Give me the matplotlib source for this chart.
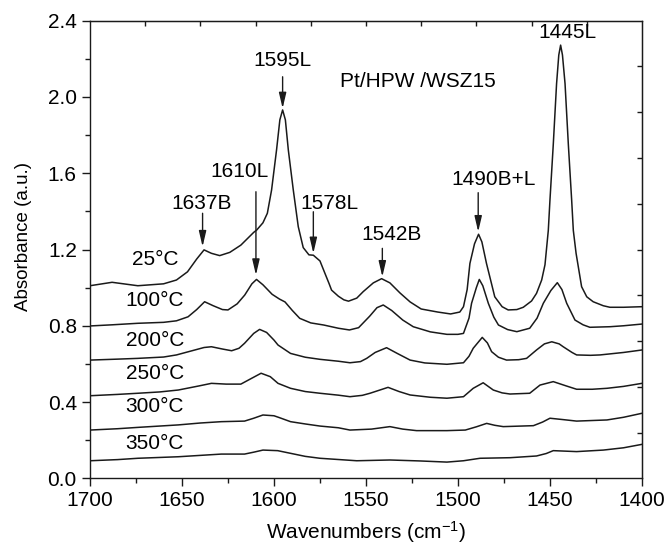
import matplotlib
matplotlib.use('Agg')
import matplotlib.pyplot as plt
from matplotlib.ticker import MultipleLocator, FormatStrFormatter

plt.rcParams['font.family'] = ['Liberation Sans', 'DejaVu Sans']
plt.rcParams['mathtext.default'] = 'regular'

# spectra (wavenumber, absorbance)
wn_25 = [1700, 1688, 1674, 1660, 1653, 1647, 1642, 1638, 1634, 1629.5, 1624, 1618, 1611, 1609.4,
         1606, 1603.6, 1601.3, 1598.6, 1596.8, 1595.3, 1593.8, 1592.2, 1589.5, 1586.8, 1584.1,
         1581, 1578.6, 1575, 1572.3, 1570, 1568.7, 1565, 1562, 1559.5, 1555, 1551.5, 1546, 1541.5,
         1537, 1531.5, 1526, 1520, 1511, 1504, 1499, 1497, 1495, 1493.5, 1491, 1488.8, 1487,
         1484.5, 1482, 1480, 1476, 1472.7, 1468, 1464.5, 1460, 1457.3, 1454.5, 1452.7, 1450.9,
         1450, 1448.2, 1446.4, 1445.2, 1444.2, 1443.2, 1441.8, 1440, 1438.2, 1437.3, 1435.8,
         1434.6, 1432.8, 1430, 1426.5, 1421, 1417.4, 1410, 1400]
abs_25 = [1.010, 1.028, 1.010, 1.020, 1.040, 1.083, 1.150, 1.198, 1.180, 1.168, 1.185, 1.223, 1.290, 1.302,
          1.340, 1.390, 1.512, 1.722, 1.880, 1.932, 1.880, 1.722, 1.512, 1.320, 1.210,
          1.172, 1.170, 1.140, 1.075, 1.020, 0.987, 0.955, 0.936, 0.929, 0.945, 0.979, 1.025, 1.047,
          1.025, 0.972, 0.925, 0.888, 0.872, 0.862, 0.872, 0.900, 0.990, 1.127, 1.230, 1.280, 1.240,
          1.127, 1.030, 0.952, 0.900, 0.883, 0.885, 0.897, 0.930, 0.970, 1.040, 1.120, 1.300,
          1.459, 1.750, 2.070, 2.220, 2.272, 2.220, 2.070, 1.750, 1.459, 1.300, 1.180,
          1.110, 1.005, 0.952, 0.926, 0.905, 0.897, 0.897, 0.900]

wn_100 = [1700, 1688, 1674, 1660, 1653, 1646.7, 1642, 1637.7, 1633, 1628, 1625, 1620, 1615.9, 1612,
          1609.5, 1606, 1601, 1597, 1594, 1590, 1586, 1580, 1573, 1565, 1559, 1554, 1548, 1544,
          1540.6, 1536, 1530, 1524.3, 1515, 1506, 1500, 1497, 1494, 1492.6, 1490, 1488.4, 1486.5,
          1483.5, 1480.5, 1478, 1473, 1468, 1461, 1457, 1453.6, 1449.5, 1446, 1443.5, 1440.9,
          1436.4, 1432, 1428.3, 1417.4, 1410, 1400]
abs_100 = [0.799, 0.805, 0.813, 0.818, 0.826, 0.847, 0.885, 0.926, 0.905, 0.885, 0.883, 0.915, 0.961, 1.020,
           1.043, 1.015, 0.965, 0.940, 0.925, 0.880, 0.839, 0.815, 0.804, 0.787, 0.778, 0.790, 0.850, 0.895,
           0.909, 0.880, 0.830, 0.795, 0.768, 0.755, 0.755, 0.760, 0.840, 0.918, 1.000, 1.043, 1.010,
           0.918, 0.845, 0.804, 0.780, 0.769, 0.787, 0.840, 0.918, 0.985, 1.026, 0.990, 0.918,
           0.830, 0.805, 0.792, 0.795, 0.800, 0.809]

wn_200 = [1700, 1685, 1674, 1660, 1653, 1643, 1638, 1634, 1628, 1623, 1619, 1616, 1611, 1607.8, 1604,
          1600, 1597.8, 1591, 1583, 1575, 1565, 1558.7, 1553, 1549.6, 1545, 1538.8, 1533, 1526, 1518,
          1506, 1497, 1494, 1491.7, 1486.8, 1484, 1481.7, 1478, 1473.6, 1467, 1462.7, 1457.3, 1453,
          1449, 1445, 1442.8, 1438, 1435.5, 1428, 1422.8, 1410, 1400]
abs_200 = [0.620, 0.625, 0.629, 0.636, 0.647, 0.673, 0.686, 0.690, 0.678, 0.669, 0.682, 0.708, 0.760, 0.781, 0.765,
           0.725, 0.699, 0.655, 0.635, 0.624, 0.614, 0.606, 0.612, 0.629, 0.660, 0.685, 0.655, 0.620, 0.605,
           0.598, 0.606, 0.640, 0.682, 0.739, 0.710, 0.664, 0.635, 0.620, 0.622, 0.629, 0.673, 0.705,
           0.716, 0.705, 0.690, 0.660, 0.647, 0.645, 0.647, 0.660, 0.673]

wn_250 = [1700, 1685, 1674, 1662, 1652, 1641, 1634, 1626, 1618, 1613, 1607, 1602, 1597.8, 1591, 1583,
          1575, 1565, 1558.7, 1552, 1547.8, 1538, 1532, 1526, 1515, 1506, 1497, 1491.7, 1486.3,
          1480.8, 1476, 1471.7, 1461, 1455.4, 1448.2, 1441, 1435.5, 1427, 1419, 1410, 1400]
abs_250 = [0.433, 0.440, 0.446, 0.453, 0.463, 0.484, 0.498, 0.494, 0.494, 0.520, 0.551, 0.533, 0.498, 0.472, 0.455,
           0.446, 0.436, 0.428, 0.435, 0.446, 0.477, 0.455, 0.437, 0.425, 0.420, 0.428, 0.472, 0.501,
           0.463, 0.448, 0.442, 0.446, 0.489, 0.507, 0.484, 0.467, 0.467, 0.472, 0.482, 0.498]

wn_300 = [1700, 1685, 1674, 1652, 1640, 1628.6, 1616, 1611, 1606, 1600, 1597, 1591, 1583, 1575, 1565,
          1558.7, 1547, 1537, 1530, 1522.5, 1506, 1496, 1490, 1484.4, 1480, 1475.4, 1459, 1454,
          1450, 1443, 1435.5, 1419, 1410, 1400]
abs_300 = [0.253, 0.260, 0.267, 0.280, 0.290, 0.297, 0.300, 0.315, 0.332, 0.328, 0.318, 0.297, 0.285, 0.274, 0.265,
           0.253, 0.258, 0.271, 0.258, 0.250, 0.250, 0.253, 0.270, 0.288, 0.278, 0.271, 0.276, 0.295,
           0.315, 0.308, 0.300, 0.306, 0.320, 0.341]

wn_350 = [1700, 1685, 1674, 1652, 1628.6, 1616, 1611, 1606, 1598, 1591, 1583, 1575, 1555, 1537,
          1520.7, 1506, 1497, 1488, 1471.7, 1457.3, 1452, 1448.2, 1435.5, 1421, 1410, 1400]
abs_350 = [0.092, 0.098, 0.105, 0.113, 0.127, 0.127, 0.137, 0.148, 0.145, 0.131, 0.115, 0.105, 0.092, 0.096,
           0.091, 0.085, 0.092, 0.105, 0.108, 0.117, 0.130, 0.145, 0.140, 0.148, 0.160, 0.178]

temps = ['25°C', '100°C', '200°C', '250°C', '300°C', '350°C']
temp_label_y = [1.148, 0.935, 0.725, 0.551, 0.375, 0.184]

series_wn = [wn_25, wn_100, wn_200, wn_250, wn_300, wn_350]
series_abs = [abs_25, abs_100, abs_200, abs_250, abs_300, abs_350]

fs = 15
fig = plt.figure(figsize=(6.68, 5.48), dpi=100)
ax = fig.add_axes([0.1347, 0.1272, 0.8263, 0.835])

for w, a in zip(series_wn, series_abs):
    ax.plot(w, a, color='#1a1a1a', lw=1.1, solid_joinstyle='round')

for t, y in zip(temps, temp_label_y):
    ax.text(1664.7, y, t, ha='center', va='center', fontsize=fs)

# peak labels + arrows
arrow = dict(arrowstyle='-|>,head_length=0.94,head_width=0.22', color='#1a1a1a',
             lw=1.0, shrinkA=0, shrinkB=0, mutation_scale=10)
ax.text(1639.3, 1.442, '1637B', ha='center', va='center', fontsize=fs)
ax.annotate('', xy=(1638.8, 1.215), xytext=(1638.8, 1.39), arrowprops=arrow)
ax.text(1618.5, 1.608, '1610L', ha='center', va='center', fontsize=fs)
ax.annotate('', xy=(1609.8, 1.066), xytext=(1609.8, 1.503), arrowprops=arrow)
ax.text(1595.3, 2.193, '1595L', ha='center', va='center', fontsize=fs)
ax.annotate('', xy=(1595.3, 1.94), xytext=(1595.3, 2.106), arrowprops=arrow)
ax.text(1570, 1.442, '1578L', ha='center', va='center', fontsize=fs)
ax.annotate('', xy=(1578.6, 1.18), xytext=(1578.6, 1.398), arrowprops=arrow)
ax.text(1536, 1.281, '1542B', ha='center', va='center', fontsize=fs)
ax.annotate('', xy=(1541.1, 1.057), xytext=(1541.1, 1.206), arrowprops=arrow)
ax.text(1480.8, 1.569, '1490B+L', ha='center', va='center', fontsize=fs)
ax.annotate('', xy=(1489, 1.293), xytext=(1489, 1.498), arrowprops=arrow)
ax.text(1440.4, 2.339, '1445L', ha='center', va='center', fontsize=fs)
ax.text(1521.6, 2.08, 'Pt/HPW /WSZ15', ha='center', va='center', fontsize=fs)

ax.set_xlim(1700, 1400)
ax.set_ylim(0, 2.4)
ax.xaxis.set_major_locator(MultipleLocator(50))
ax.xaxis.set_minor_locator(MultipleLocator(25))
ax.yaxis.set_major_locator(MultipleLocator(0.4))
ax.yaxis.set_minor_locator(MultipleLocator(0.2))
ax.yaxis.set_major_formatter(FormatStrFormatter('%.1f'))
ax.tick_params(which='major', direction='out', length=6, width=1, labelsize=fs, pad=3.5, color='#1a1a1a')
ax.tick_params(which='minor', direction='out', length=3.5, width=1, color='#1a1a1a')
ax.tick_params(top=False, right=False)
for s in ax.spines.values():
    s.set_linewidth(1.0)
    s.set_color('#1a1a1a')

# top / right axes: inward ticks, no labels
top = ax.secondary_xaxis('top')
top.set_xticks([1670, 1640, 1610, 1580, 1550, 1520, 1490, 1460, 1430])
top.tick_params(direction='in', length=3.5, width=1, labeltop=False, color='#1a1a1a')
right = ax.secondary_yaxis('right')
right.set_yticks([0.24, 0.48, 0.72, 0.96, 1.2, 1.44, 1.68, 1.92, 2.16])
right.tick_params(direction='in', length=3.5, width=1, labelright=False, color='#1a1a1a')

ax.set_xlabel('Wavenumbers (cm$^{-1}$)', fontsize=fs, labelpad=6)
ax.set_ylabel('Absorbance (a.u.)', fontsize=13.5)
ax.yaxis.set_label_coords(-0.105, 0.529)

fig.savefig('out.png', dpi=100)
